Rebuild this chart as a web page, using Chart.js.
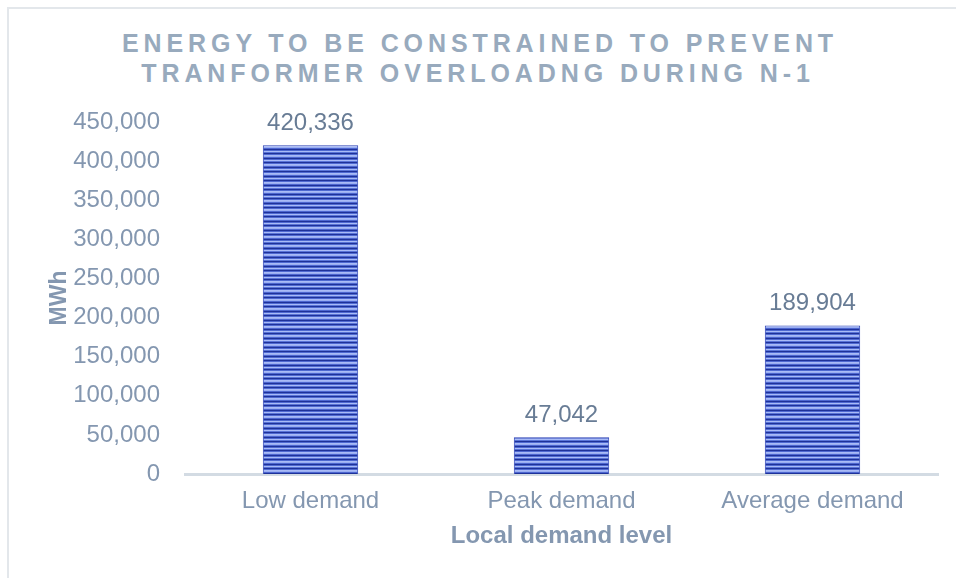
<!DOCTYPE html>
<html>
<head>
<meta charset="utf-8">
<script src="https://cdn.jsdelivr.net/npm/chart.js@4.4.1/dist/chart.umd.min.js"></script>
<style>
    html, body { margin: 0; padding: 0; background: #fff; }
    .wrap { position: relative; width: 956px; height: 578px; }
    .frame { position: absolute; left: 7px; top: 7px; width: 960px; height: 580px; border-left: 2px solid #e3e7eb; border-top: 2px solid #e3e7eb; box-sizing: border-box; }
    .title {
        position: absolute; left: 0; top: 28px; width: 956px; text-align: center;
        font: bold 25px "Liberation Sans", Arial, sans-serif; color: #98aabd;
        letter-spacing: 4.9px; line-height: 30px; text-indent: 4px;
    }
    canvas { position: absolute; left: 0; top: 0; }
</style>
</head>
<body>
<div class="wrap">
    <div class="frame"></div>
    <div class="title">ENERGY TO BE CONSTRAINED TO PREVENT<br>TRANFORMER OVERLOADNG DURING N-1</div>
    <canvas id="chart" width="956" height="578"></canvas>
</div>
<script>
const categories = ['Low demand', 'Peak demand', 'Average demand'];
const energyMWh = [420336, 47042, 189904];
const yTicks = [0, 50000, 100000, 150000, 200000, 250000, 300000, 350000, 400000, 450000];

const fontFamily = '"Liberation Sans", Arial, sans-serif';
const tickColor = '#8497b0';

// horizontal stripes like the gradient fill in the original
function stripePattern() {
    const c = document.createElement('canvas');
    c.width = 8;
    c.height = 9;
    const g = c.getContext('2d');
    const rows = ['#1f3299', '#4f69d2', '#a9bbf6', '#9aaef2', '#4d66d0', '#1f3299', '#4f69d2', '#a9bbf6', '#5a74d8'];
    rows.forEach((col, i) => {
        g.fillStyle = col;
        g.fillRect(0, i, 8, 1);
    });
    return g.createPattern(c, 'repeat');
}

// value labels above each bar
const valueLabels = {
    id: 'valueLabels',
    afterDatasetsDraw(chart) {
        const ctx = chart.ctx;
        const meta = chart.getDatasetMeta(0);
        ctx.save();
        ctx.font = '24px ' + fontFamily;
        ctx.fillStyle = '#687c95';
        ctx.textAlign = 'center';
        ctx.textBaseline = 'alphabetic';
        meta.data.forEach((bar, i) => {
            ctx.fillText(energyMWh[i].toLocaleString('en-US'), bar.x, bar.y - 15);
        });
        ctx.restore();
    },
};

new Chart(document.getElementById('chart'), {
    type: 'bar',
    data: {
        labels: categories,
        datasets: [
            {
                data: energyMWh,
                backgroundColor: stripePattern(),
                borderColor: '#2b40b4',
                borderWidth: 1,
                barPercentage: 0.38,
                categoryPercentage: 1,
            },
        ],
    },
    options: {
        responsive: false,
        animation: false,
        layout: { padding: { top: 122, left: 46, right: 18, bottom: 27 } },
        plugins: { legend: { display: false }, tooltip: { enabled: false } },
        scales: {
            x: {
                afterFit(scale) {
                    scale.height = 77;
                },
                grid: { display: false, drawTicks: false },
                border: { display: true, color: '#d3dbe3', width: 3 },
                ticks: { color: tickColor, font: { family: fontFamily, size: 24 }, padding: 13 },
                title: {
                    display: true,
                    text: 'Local demand level',
                    color: tickColor,
                    font: { family: fontFamily, size: 24, weight: 'bold' },
                    padding: { top: 0, bottom: 0 },
                },
            },
            y: {
                min: 0,
                max: 450000,
                afterBuildTicks(scale) {
                    scale.ticks = yTicks.map((v) => ({ value: v }));
                },
                afterFit(scale) {
                    scale.width = 139;
                },
                grid: { display: false, drawTicks: false },
                border: { display: false },
                ticks: {
                    color: tickColor,
                    font: { family: fontFamily, size: 24 },
                    padding: 25,
                    callback: (v) => v.toLocaleString('en-US'),
                },
                title: {
                    display: true,
                    text: 'MWh',
                    color: tickColor,
                    font: { family: fontFamily, size: 23, weight: 'bold' },
                    padding: { top: 0, bottom: 0 },
                },
            },
        },
    },
    plugins: [valueLabels],
});
</script>
</body>
</html>
